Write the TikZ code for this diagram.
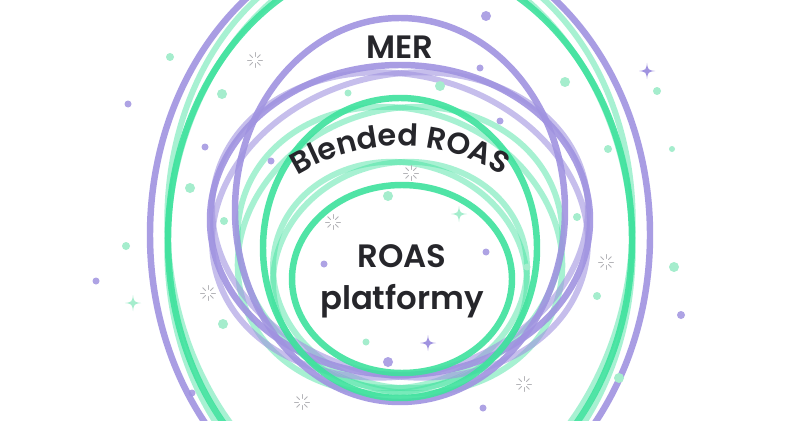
\documentclass[tikz,border=0pt]{standalone}
\usepackage{fontspec}
\setmainfont{Poppins}[BoldFont={Poppins SemiBold}]
\usetikzlibrary{decorations.text}
\definecolor{mint}{HTML}{3EE29D}
\definecolor{lilac}{HTML}{A093E0}
\definecolor{mintpale}{HTML}{A5EDCD}
\definecolor{ink}{HTML}{26262B}
\definecolor{spark}{HTML}{B4B4B8}
\tikzset{
  ring/.style={line width=4.6pt,draw opacity=.9},
  haze/.style={line width=4.2pt,draw opacity=.45},
  lbl/.style={font=\bfseries\fontsize{23}{30}\selectfont,text=ink,align=center},
  burst/.pic={\foreach \a in {0,45,...,315} \draw[spark,line width=.6pt,line cap=round] (\a:3.5) -- (\a:7.5);},
  sparkle/.pic={\fill (0,-8) .. controls (1,-1) .. (8,0) .. controls (1,1) .. (0,8) .. controls (-1,1) .. (-8,0) .. controls (-1,-1) .. cycle;},
}
\begin{document}
\begin{tikzpicture}[x=0.025cm,y=-0.025cm]
\useasboundingbox (0,0) rectangle (800,420);
\fill[white] (0,0) rectangle (800,420);
\clip (0,0) rectangle (800,420);
% pale crossing rings
\draw[haze,mint,rotate around={6:(400,235)}] (400,235) ellipse[x radius=232,y radius=290];
\draw[haze,mint,rotate around={-6:(400,235)}] (400,235) ellipse[x radius=232,y radius=290];
\draw[haze,mint,rotate around={20:(400,250)}] (400,250) ellipse[x radius=165,y radius=140];
\draw[haze,mint,rotate around={-20:(400,250)}] (400,250) ellipse[x radius=165,y radius=140];
\draw[haze,mint,rotate around={15:(400,275)}] (400,275) ellipse[x radius=128,y radius=112];
\draw[haze,mint,rotate around={-15:(400,275)}] (400,275) ellipse[x radius=128,y radius=112];
\draw[haze,lilac,draw opacity=.6,rotate around={14:(400,225)}] (400,225) ellipse[x radius=190,y radius=150];
\draw[haze,lilac,draw opacity=.6,rotate around={-14:(400,225)}] (400,225) ellipse[x radius=190,y radius=150];
% main rings
\draw[ring,lilac] (400,235) ellipse[x radius=250,y radius=300];
\draw[ring,mint] (400,240) ellipse[x radius=232,y radius=282];
\draw[ring,lilac] (400,210) ellipse[x radius=165,y radius=192];
\draw[ring,lilac] (400,220) ellipse[x radius=190,y radius=155];
\draw[ring,mint] (400,248) ellipse[x radius=137,y radius=150];
\draw[ring,mint] (402,279) ellipse[x radius=110,y radius=94];
% dots
\foreach \p/\r in {(486,16)/5,(480,68)/3.5,(128,104)/3.5,(205,147)/3.5,(271,161)/3.5,(500,121)/3.5,(96,281)/3.5,(681,315)/4,(324,264)/3.5,(486,252)/3.5,(388,362)/5,(192,393)/3.5,(483,408)/3.5}
  \fill[lilac,opacity=.85] \p circle[radius=\r];
\foreach \p/\r in {(170,57)/4,(222,94)/5,(190,188)/5,(224,221)/4,(126,246)/4,(223,324)/5,(565,82)/5,(657,91)/4,(608,149)/4,(672,149)/3,(577,217)/4,(674,267)/5,(597,296)/4,(527,267)/3.5,(440,86)/5,(348,93)/3.5,(388,196)/5,(366,342)/3.5,(619,378)/5}
  \fill[mintpale] \p circle[radius=\r];
\foreach \p in {(255,60),(411,173),(333,222),(208,293),(606,262),(302,402),(524,384)}
  \pic at \p {burst};
\pic[lilac] at (647,71) {sparkle};
\pic[mintpale] at (133,303) {sparkle};
\pic[mintpale] at (459,214) {sparkle};
\pic[lilac] at (428,343) {sparkle};
% labels
\node[lbl] (mer) at (400,47) {MER};
\path[decorate,decoration={text along path,text align=center,
  text={|\bfseries\fontsize{21.5}{28}\selectfont\color{ink}|Blended ROAS}}]
  (231.1,243.5) arc[start angle=210,end angle=330,radius=195];
\node[lbl] (roas) at (402,281) {ROAS\\platformy};
\end{tikzpicture}
\end{document}
